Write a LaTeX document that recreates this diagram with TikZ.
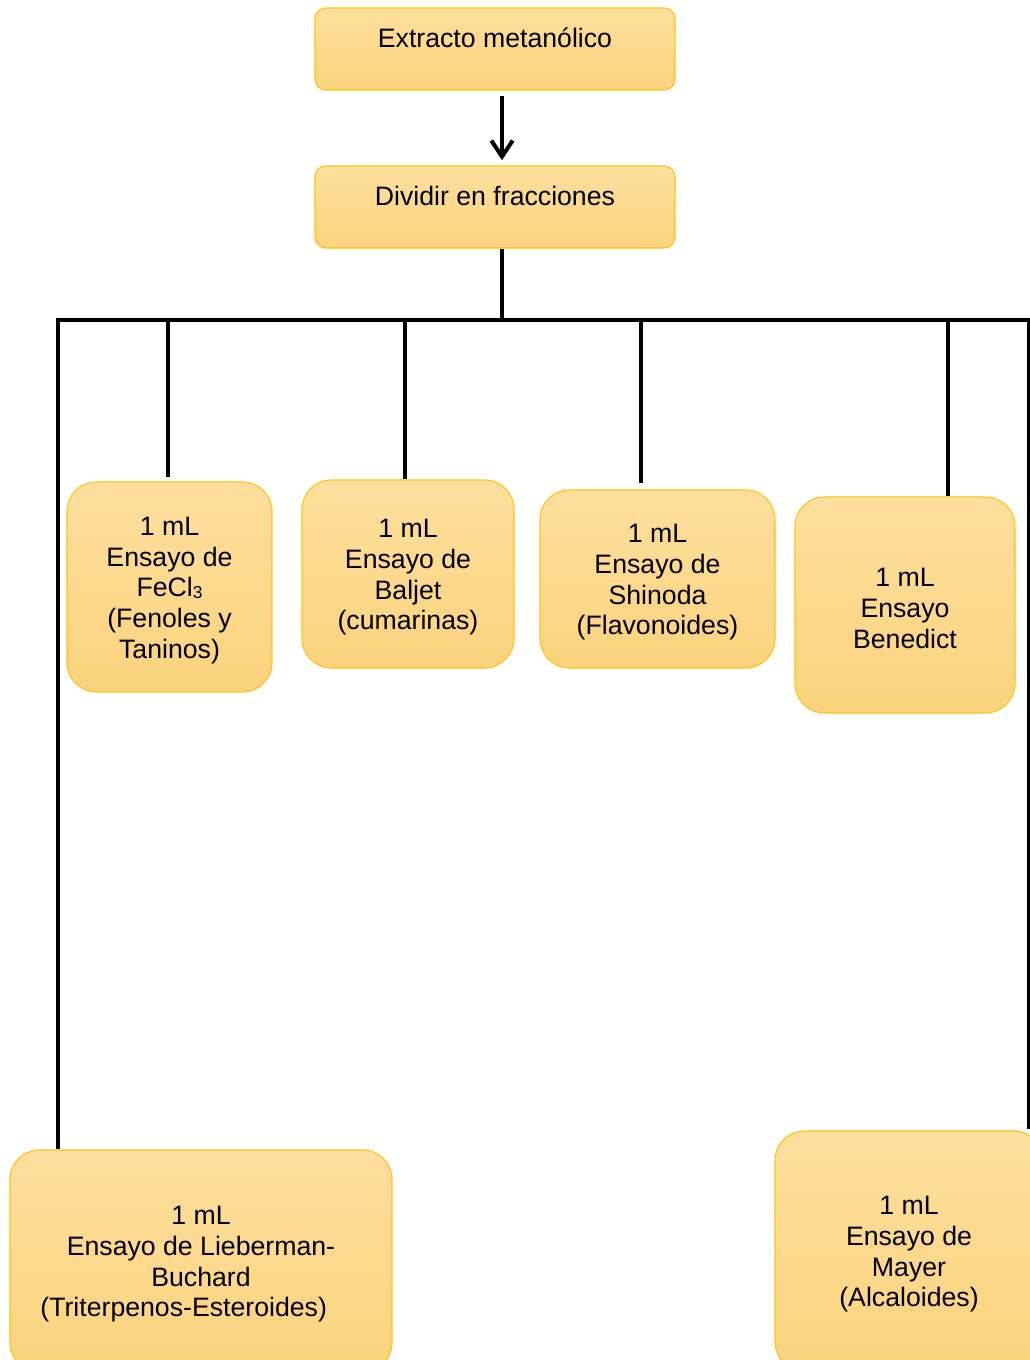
\documentclass[tikz,border=0pt]{standalone}
\usepackage{fontspec}
\setmainfont{Liberation Sans}
\usetikzlibrary{arrows.meta,calc,positioning}
\definecolor{boxtop}{RGB}{253,223,158}
\definecolor{boxbot}{RGB}{251,211,125}
\definecolor{boxline}{RGB}{255,194,20}
\newcommand{\tstrut}{\rule{0pt}{19pt}}

\begin{document}
\begin{tikzpicture}[
    x=0.75pt, y=-0.75pt,
    box/.style={rounded corners=22pt, draw=boxline, line width=0.8pt, top color=boxtop, bottom color=boxbot,
      align=center, inner sep=0pt, font=\fontsize{20}{23}\selectfont},
    headbox/.style={box, rounded corners=8pt, minimum width=270pt, minimum height=61.5pt, text height=15pt, text depth=17.5pt},
    wire/.style={line width=3pt}
  ]
  \useasboundingbox (0,0) rectangle (1030,1360);

  % Extracto y fracciones
  \node[headbox] (ext) at (495,49) {Extracto metanólico};
  \node[headbox] (div) at (495,207) {Dividir en fracciones};

  % Ensayos
  \node[box, minimum width=153.75pt, minimum height=157.5pt] (fecl) at (169.5,587)
    {\tstrut 1 mL\\Ensayo de\\FeCl{\fontsize{13}{13}\selectfont\raisebox{-1pt}{3}}\\(Fenoles y\\Taninos)};
  \node[box, minimum width=159pt, minimum height=141pt] (bal) at (408,574)
    {\tstrut 1 mL\\Ensayo de\\Baljet\\(cumarinas)};
  \node[box, minimum width=176.25pt, minimum height=133.5pt] (shi) at (657.5,579)
    {\tstrut 1 mL\\Ensayo de\\Shinoda\\(Flavonoides)};
  \node[box, minimum width=165pt, minimum height=162pt] (ben) at (905,605)
    {\tstrut 1 mL\\Ensayo\\Benedict};
  \node[box, minimum width=286.5pt, minimum height=166.5pt] (lieb) at (201,1261)
    {\tstrut 1 mL\\Ensayo de Lieberman-\\Buchard\\(Triterpenos-Esteroides)\hspace*{26pt}};
  \node[box, minimum width=201pt, minimum height=180pt] (may) at (909,1251)
    {\tstrut 1 mL\\Ensayo de\\Mayer\\(Alcaloides)};

  % Bus
  \coordinate (bus) at (502,320);
  \coordinate (busL) at (58,320);
  \coordinate (busR) at (1029,320);
  \coordinate (t1) at (168,320);
  \coordinate (t2) at (405,320);
  \coordinate (t3) at (641,320);
  \coordinate (t4) at (948,320);

  \draw[wire, -{Straight Barb[length=12pt,width=16pt]}, shorten <=4pt, shorten >=4pt]
    (ext.south -| bus) -- (div.north -| bus);
  \draw[wire] (div.south -| bus) -- (bus);
  \draw[wire] ([xshift=-1.5pt]busL) -- ([xshift=2pt]busR);
  \draw[wire] (busL) -- (busL |- lieb.north);
  \draw[wire] (busR) -- ([yshift=1pt]busR |- may.north);
  \draw[wire, shorten >=3.5pt] (t1) -- (t1 |- fecl.north);
  \draw[wire] (t2) -- (t2 |- bal.north);
  \draw[wire, shorten >=5pt] (t3) -- (t3 |- shi.north);
  \draw[wire] (t4) -- (t4 |- ben.north);
\end{tikzpicture}
\end{document}
